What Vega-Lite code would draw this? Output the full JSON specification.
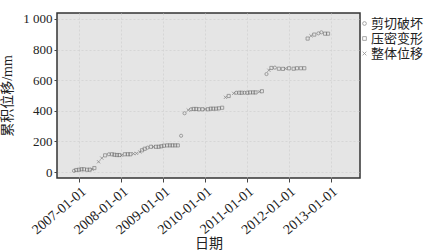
{
  "$schema": "https://vega.github.io/schema/vega-lite/v6.json",
  "autosize": "none",
  "width": 303,
  "height": 165,
  "padding": {"left": 57, "top": 13, "right": 68, "bottom": 74},
  "background": "white",
  "config": {
    "font": "Liberation Serif, Noto Sans CJK SC, serif",
    "view": {"fill": "#e5e5e5", "stroke": "#333333", "strokeWidth": 1.5},
    "axis": {"labelFont": "Liberation Serif, Noto Sans CJK SC, serif", "titleFont": "Liberation Serif, Noto Sans CJK SC, serif", "labelColor": "#222", "titleColor": "#222", "domain": false, "tickColor": "#444", "gridColor": "#d2d2d2", "gridDash": [2, 2], "gridWidth": 0.8, "titleFontWeight": "normal"},
    "legend": {"labelFont": "Liberation Serif, Noto Sans CJK SC, serif", "labelColor": "#222"}
  },
  "data": {"values": [
    {"d": "2006-11-15", "v": 8, "s": "剪切破坏"},
    {"d": "2006-12-05", "v": 13, "s": "压密变形"},
    {"d": "2006-12-28", "v": 15, "s": "压密变形"},
    {"d": "2007-01-20", "v": 18, "s": "压密变形"},
    {"d": "2007-02-10", "v": 18, "s": "压密变形"},
    {"d": "2007-03-10", "v": 15, "s": "压密变形"},
    {"d": "2007-04-01", "v": 15, "s": "压密变形"},
    {"d": "2007-04-22", "v": 18, "s": "整体位移"},
    {"d": "2007-05-12", "v": 26, "s": "压密变形"},
    {"d": "2007-06-18", "v": 67, "s": "整体位移"},
    {"d": "2007-07-16", "v": 91, "s": "整体位移"},
    {"d": "2007-08-14", "v": 109, "s": "压密变形"},
    {"d": "2007-09-16", "v": 116, "s": "剪切破坏"},
    {"d": "2007-10-12", "v": 116, "s": "压密变形"},
    {"d": "2007-11-03", "v": 113, "s": "压密变形"},
    {"d": "2007-11-25", "v": 111, "s": "压密变形"},
    {"d": "2007-12-17", "v": 111, "s": "压密变形"},
    {"d": "2008-01-05", "v": 109, "s": "整体位移"},
    {"d": "2008-02-02", "v": 116, "s": "压密变形"},
    {"d": "2008-02-28", "v": 116, "s": "压密变形"},
    {"d": "2008-03-21", "v": 116, "s": "压密变形"},
    {"d": "2008-04-18", "v": 120, "s": "整体位移"},
    {"d": "2008-05-14", "v": 122, "s": "整体位移"},
    {"d": "2008-06-12", "v": 131, "s": "整体位移"},
    {"d": "2008-07-01", "v": 142, "s": "压密变形"},
    {"d": "2008-07-24", "v": 152, "s": "压密变形"},
    {"d": "2008-08-17", "v": 159, "s": "剪切破坏"},
    {"d": "2008-09-16", "v": 165, "s": "压密变形"},
    {"d": "2008-10-08", "v": 165, "s": "整体位移"},
    {"d": "2008-10-31", "v": 165, "s": "压密变形"},
    {"d": "2008-11-23", "v": 165, "s": "压密变形"},
    {"d": "2008-12-16", "v": 168, "s": "压密变形"},
    {"d": "2009-01-08", "v": 172, "s": "压密变形"},
    {"d": "2009-02-06", "v": 174, "s": "压密变形"},
    {"d": "2009-03-01", "v": 174, "s": "压密变形"},
    {"d": "2009-03-24", "v": 174, "s": "压密变形"},
    {"d": "2009-04-16", "v": 174, "s": "压密变形"},
    {"d": "2009-05-09", "v": 174, "s": "压密变形"},
    {"d": "2009-06-07", "v": 237, "s": "剪切破坏"},
    {"d": "2009-07-07", "v": 384, "s": "剪切破坏"},
    {"d": "2009-08-08", "v": 405, "s": "整体位移"},
    {"d": "2009-09-02", "v": 410, "s": "剪切破坏"},
    {"d": "2009-09-24", "v": 412, "s": "压密变形"},
    {"d": "2009-10-17", "v": 412, "s": "压密变形"},
    {"d": "2009-11-10", "v": 410, "s": "压密变形"},
    {"d": "2009-12-11", "v": 410, "s": "压密变形"},
    {"d": "2010-01-01", "v": 410, "s": "整体位移"},
    {"d": "2010-01-28", "v": 410, "s": "压密变形"},
    {"d": "2010-02-20", "v": 414, "s": "压密变形"},
    {"d": "2010-03-15", "v": 414, "s": "压密变形"},
    {"d": "2010-04-08", "v": 414, "s": "压密变形"},
    {"d": "2010-05-02", "v": 416, "s": "压密变形"},
    {"d": "2010-05-31", "v": 420, "s": "压密变形"},
    {"d": "2010-06-29", "v": 488, "s": "整体位移"},
    {"d": "2010-07-27", "v": 497, "s": "压密变形"},
    {"d": "2010-09-09", "v": 514, "s": "整体位移"},
    {"d": "2010-10-01", "v": 518, "s": "剪切破坏"},
    {"d": "2010-10-27", "v": 518, "s": "压密变形"},
    {"d": "2010-11-18", "v": 518, "s": "压密变形"},
    {"d": "2010-12-12", "v": 518, "s": "剪切破坏"},
    {"d": "2011-01-07", "v": 518, "s": "压密变形"},
    {"d": "2011-01-30", "v": 520, "s": "压密变形"},
    {"d": "2011-02-25", "v": 520, "s": "压密变形"},
    {"d": "2011-03-18", "v": 520, "s": "压密变形"},
    {"d": "2011-04-20", "v": 525, "s": "整体位移"},
    {"d": "2011-05-13", "v": 528, "s": "压密变形"},
    {"d": "2011-06-22", "v": 640, "s": "剪切破坏"},
    {"d": "2011-07-13", "v": 665, "s": "整体位移"},
    {"d": "2011-08-04", "v": 680, "s": "压密变形"},
    {"d": "2011-09-03", "v": 682, "s": "剪切破坏"},
    {"d": "2011-10-08", "v": 675, "s": "压密变形"},
    {"d": "2011-11-12", "v": 674, "s": "压密变形"},
    {"d": "2011-12-07", "v": 676, "s": "整体位移"},
    {"d": "2012-01-05", "v": 678, "s": "压密变形"},
    {"d": "2012-02-14", "v": 675, "s": "压密变形"},
    {"d": "2012-03-14", "v": 678, "s": "压密变形"},
    {"d": "2012-04-17", "v": 678, "s": "压密变形"},
    {"d": "2012-05-17", "v": 678, "s": "压密变形"},
    {"d": "2012-06-15", "v": 872, "s": "压密变形"},
    {"d": "2012-07-14", "v": 890, "s": "整体位移"},
    {"d": "2012-08-12", "v": 898, "s": "压密变形"},
    {"d": "2012-09-17", "v": 906, "s": "剪切破坏"},
    {"d": "2012-10-13", "v": 913, "s": "剪切破坏"},
    {"d": "2012-11-14", "v": 904, "s": "压密变形"},
    {"d": "2012-12-10", "v": 904, "s": "压密变形"}
  ]},
  "mark": {"type": "point", "filled": false, "size": 10, "strokeWidth": 0.8, "color": "#666666", "clip": true},
  "encoding": {
    "x": {
      "field": "d", "type": "temporal", "title": "日期",
      "scale": {"domain": ["2006-06-20", "2013-09-15"]},
      "axis": {"format": "%Y-%m-%d", "tickCount": {"interval": "year", "step": 1}, "labelAngle": -40, "labelFontSize": 14, "titleFontSize": 14, "tickSize": 4, "labelPadding": 2, "titlePadding": 0, "grid": true, "labelOverlap": false, "labelBound": false, "labelFlush": false}
    },
    "y": {
      "field": "v", "type": "quantitative", "title": "累积位移/mm",
      "scale": {"domain": [-39, 1039], "nice": false, "zero": false},
      "axis": {"values": [0, 200, 400, 600, 800, 1000], "labelExpr": "datum.value >= 1000 ? '1 000' : datum.label", "labelFontSize": 13, "titleFontSize": 14, "tickSize": 3, "labelPadding": 2, "titlePadding": 8, "grid": true}
    },
    "shape": {
      "field": "s", "type": "nominal",
      "scale": {"domain": ["剪切破坏", "压密变形", "整体位移"], "range": ["circle", "square", "M-1,-1L1,1M1,-1L-1,1"]},
      "legend": {"title": null, "orient": "none", "legendX": 301, "legendY": 4, "labelFontSize": 13, "symbolSize": 14, "symbolStrokeColor": "#666", "symbolStrokeWidth": 0.8, "rowPadding": 1, "labelOffset": 0, "padding": 0}
    }
  }
}
